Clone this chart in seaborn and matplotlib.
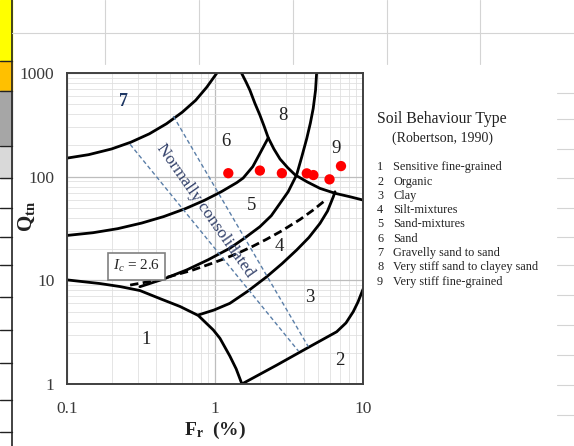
import matplotlib
matplotlib.use('Agg')
import matplotlib.pyplot as plt
from matplotlib.patches import Rectangle
from matplotlib.lines import Line2D
from matplotlib.ticker import FixedLocator, LogLocator, NullFormatter
import seaborn as sns

b76_fr = [0.10, 0.14, 0.20, 0.27, 0.36, 0.47, 0.60, 0.74, 0.88, 1.03]
b76_q = [151, 163, 185, 215, 259, 324, 418, 545, 730, 1000]

b65_fr = [0.10, 0.15, 0.22, 0.32, 0.45, 0.63, 0.85, 1.10, 1.40, 1.55, 1.80, 2.00, 2.29]
b65_q = [27.1, 28.8, 31.5, 35.7, 41.2, 49.1, 59.2, 71.4, 87.4, 97, 125, 165, 237]

b8_fr = [1.51, 1.62, 1.72, 1.86, 2.01, 2.15, 2.29, 2.50, 2.75, 3.10, 3.48, 4.20, 5.12, 6.50, 8.17, 10.0]
b8_q = [1000, 820, 684, 510, 393, 305, 237, 185, 148, 122, 104, 89, 77.1, 69, 64, 59.5]

b54_fr = [0.311, 0.45, 0.644, 0.90, 1.26, 1.60, 2.01, 2.40, 2.75, 3.12, 3.56, 3.86, 4.17, 4.41, 4.61, 4.78, 4.86]
b54_q = [8.68, 10.3, 12.6, 15.8, 20.4, 25.8, 32.9, 42, 55.3, 71.5, 104, 156, 234, 329, 456, 684, 1000]

b43_fr = [0.771, 0.984, 1.26, 1.67, 2.23, 2.84, 3.56, 4.31, 5.12, 5.76, 6.30, 6.47]
b43_q = [4.63, 5.17, 6.0, 7.88, 10.8, 14.5, 19.6, 25.9, 35.4, 46.6, 64.0, 71.5]

b1_fr = [0.10, 0.167, 0.228, 0.311, 0.424, 0.581, 0.771, 0.974, 1.08, 1.26, 1.39, 1.52]
b1_q = [10.1, 9.31, 8.71, 7.97, 6.67, 5.59, 4.58, 3.32, 2.76, 1.86, 1.40, 1.0]

b2_fr = [1.52, 2.61, 4.17, 6.64, 7.67, 8.59, 9.25, 10.0]
b2_q = [1.0, 1.52, 2.21, 3.19, 3.88, 4.98, 6.18, 8.2]

ic26_fr = [0.267, 0.35, 0.497, 0.70, 0.969, 1.2, 1.48, 1.8, 2.23, 2.8, 3.75, 4.6, 5.69]
ic26_q = [9.0, 9.66, 10.9, 12.5, 14.7, 16.5, 18.7, 21.3, 24.9, 29.8, 38.6, 47.6, 60.8]

nc_left_fr = [0.267, 3.66]
nc_left_q = [205, 2.08]
nc_right_fr = [0.523, 4.27]
nc_right_q = [384, 2.29]

# CPT points
pts_fr = [1.23, 2.01, 2.83, 4.17, 4.62, 5.94, 7.10]
pts_q = [108, 114.5, 108, 107.6, 103.6, 94.2, 126.5]

zone_ids = ['1', '2', '3', '4', '5', '6', '7', '8', '9']
zone_fr = [0.342, 7.0, 4.38, 2.70, 1.78, 1.19, 0.239, 2.88, 6.57]
zone_q = [2.66, 1.70, 6.9, 21.4, 53.2, 216, 536, 393, 189]

zone_names = ['Sensitive fine-grained', 'Organic', 'Clay', 'Silt-mixtures',
              'Sand-mixtures', 'Sand', 'Gravelly sand to sand',
              'Very stiff sand to clayey sand', 'Very stiff fine-grained']

x_ticks = [0.1, 1, 10]
x_labels = ['0.1', '1', '10']
y_ticks = [1, 10, 100, 1000]
y_labels = ['1', '10', '100', '1000']

sns.set_style('white')
plt.rcParams['font.family'] = ['Liberation Serif', 'DejaVu Serif']
plt.rcParams['mathtext.fontset'] = 'custom'
plt.rcParams['mathtext.rm'] = 'Liberation Serif'
plt.rcParams['mathtext.it'] = 'Liberation Serif:italic'
plt.rcParams['mathtext.bf'] = 'Liberation Serif:bold'

W, H = 574, 446
fig = plt.figure(figsize=(W / 100, H / 100), dpi=100)


def fx(px):
    return px / W


def fy(py):
    return 1 - py / H


# spreadsheet around the pasted picture
cells = [(0, 61, '#FFFF00'), (61, 91, '#FFC000'), (91, 146, '#A6A6A6'), (146, 178, '#D9D9D9')]
for top, bot, col in cells:
    fig.add_artist(Rectangle((0, fy(bot)), fx(12), (bot - top) / H,
                             transform=fig.transFigure, color=col, zorder=0))
for py in [61, 91, 146, 178, 208, 237, 265, 297, 330, 363, 400, 432]:
    fig.add_artist(Line2D([0, fx(12)], [fy(py), fy(py)], transform=fig.transFigure,
                          color='#222222', lw=1.0))
fig.add_artist(Line2D([fx(12), fx(12)], [0, 1], transform=fig.transFigure, color='#222222', lw=1.2))
for px in [105, 199, 293, 387, 480]:
    fig.add_artist(Line2D([fx(px), fx(px)], [fy(0), fy(64)], transform=fig.transFigure,
                          color='#D4D4D4', lw=0.8))
fig.add_artist(Line2D([fx(12), 1], [fy(33), fy(33)], transform=fig.transFigure, color='#D4D4D4', lw=0.8))
for py in [93, 119, 149, 178, 208, 237, 265, 295, 325, 355, 385, 415]:
    fig.add_artist(Line2D([fx(557), 1], [fy(py), fy(py)], transform=fig.transFigure,
                          color='#D4D4D4', lw=0.8))

ax = fig.add_axes([fx(67), fy(384), 296 / W, 311 / H])
ax.set(xscale='log', yscale='log')

line_kw = dict(ax=ax, color='black', lw=2.0, sort=False, estimator=None)
for xs, ys in [(b76_fr, b76_q), (b65_fr, b65_q), (b8_fr, b8_q), (b54_fr, b54_q),
               (b43_fr, b43_q), (b1_fr, b1_q), (b2_fr, b2_q)]:
    sns.lineplot(x=xs, y=ys, **line_kw)

sns.lineplot(x=ic26_fr, y=ic26_q, ax=ax, color='black', lw=2.0, sort=False,
             estimator=None, linestyle=(0, (3, 1.6)))
for xs, ys in [(nc_left_fr, nc_left_q), (nc_right_fr, nc_right_q)]:
    sns.lineplot(x=xs, y=ys, ax=ax, color='#5B7FA8', lw=1.0, sort=False,
                 estimator=None, linestyle=(0, (3, 2)))

sns.scatterplot(x=pts_fr, y=pts_q, ax=ax, color='#FF0000', s=55, edgecolor='none', zorder=5)

for zid, zx, zy in zip(zone_ids, zone_fr, zone_q):
    if zid == '7':
        ax.text(zx, zy, zid, ha='center', va='center', fontsize=13, color='#1F3864', fontweight='bold')
    else:
        ax.text(zx, zy, zid, ha='center', va='center', fontsize=13.5, color='#222222')

ax.text(0.295, 13.7, r'$I_c$ = 2.6', ha='center', va='center', fontsize=11,
        bbox=dict(boxstyle='square,pad=0.35', fc='white', ec='#808080', lw=1.2))
ax.text(0.855, 47.6, 'Normally consolidated', rotation=-55, rotation_mode='anchor',
        ha='center', va='center', fontsize=12.5, color='#34426B')

ax.set_xlim(0.1, 10)
ax.set_ylim(1, 1000)
ax.xaxis.set_major_locator(FixedLocator(x_ticks))
ax.xaxis.set_ticklabels(x_labels)
ax.yaxis.set_major_locator(FixedLocator(y_ticks))
ax.yaxis.set_ticklabels(y_labels)
ax.xaxis.set_minor_locator(LogLocator(base=10, subs=range(2, 10)))
ax.yaxis.set_minor_locator(LogLocator(base=10, subs=range(2, 10)))
ax.xaxis.set_minor_formatter(NullFormatter())
ax.yaxis.set_minor_formatter(NullFormatter())
ax.tick_params(which='major', length=4, color='#808080', labelsize=12.5, labelcolor='#3A3A3A')
ax.tick_params(axis='x', pad=8)
ax.tick_params(axis='y', pad=5)
ax.tick_params(which='minor', length=0)
ax.grid(which='major', color='#BDBDBD', lw=0.9)
ax.grid(which='minor', color='#E0E0E0', lw=0.6)
ax.set_axisbelow(True)
for sp in ax.spines.values():
    sp.set_color('#404040')
    sp.set_linewidth(1.4)

ax.set_xlabel(r'$\mathbf{F_r}$  (%)', fontsize=14, fontweight='bold', color='#222222')
ax.set_ylabel(r'$\mathbf{Q_{tn}}$', fontsize=15, color='#222222')
ax.xaxis.set_label_coords(0.5, -0.115)
ax.yaxis.set_label_coords(-0.10, 0.54)

# legend text block
fig.text(fx(441.5), fy(119), 'Soil Behaviour Type', ha='center', va='center', fontsize=11.3, color='#222222')
fig.text(fx(442.5), fy(138), '(Robertson, 1990)', ha='center', va='center', fontsize=10, color='#222222')
for i, name in enumerate(zone_names):
    yy = fy(167.3 + i * 14.3)
    fig.text(fx(377), yy, str(i + 1), ha='left', va='center', fontsize=8.8, color='#222222')
    fig.text(fx(393), yy, name, ha='left', va='center', fontsize=8.8, color='#222222')

fig.savefig('out.png', dpi=100)
